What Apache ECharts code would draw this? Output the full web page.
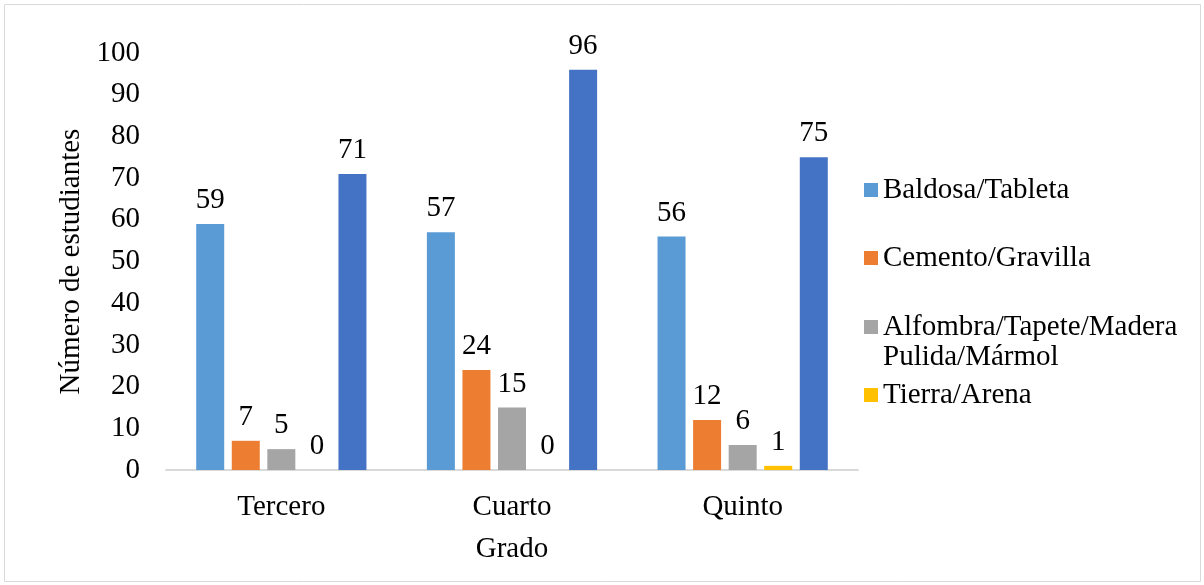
<!DOCTYPE html>
<html>
<head>
<meta charset="utf-8">
<script src="https://cdn.jsdelivr.net/npm/echarts@6/dist/echarts.min.js"></script>
<style>
html,body{margin:0;padding:0;background:#fff;}
#chart{width:1204px;height:585px;}
</style>
</head>
<body>
<div id="chart"></div>
<script>
const categories = ['Tercero', 'Cuarto', 'Quinto'];
const seriesNames = ['Baldosa/Tableta', 'Cemento/Gravilla', 'Alfombra/Tapete/Madera Pulida/Mármol', 'Tierra/Arena', 'Total'];
const baldosa = [59, 57, 56];
const cemento = [7, 24, 12];
const alfombra = [5, 15, 6];
const tierra = [0, 0, 1];
const total = [71, 96, 75];
const yTicks = { min: 0, max: 100, interval: 10 };
const colors = ['#5B9BD5', '#ED7D31', '#A5A5A5', '#FFC000', '#4472C4'];

const FONT = 'Liberation Serif';
const FS = 29;
const seriesData = [baldosa, cemento, alfombra, tierra, total];

const chart = echarts.init(document.getElementById('chart'));

function makeLegend(name, top, extra) {
  return Object.assign({
    data: [name],
    orient: 'vertical',
    left: 864,
    top: top,
    padding: 0,
    itemWidth: 14,
    itemHeight: 14,
    icon: 'rect',
    selectedMode: false,
    textStyle: { fontFamily: FONT, fontSize: FS, color: '#000', lineHeight: 30 }
  }, extra || {});
}

chart.setOption({
  animation: false,
  color: colors,
  grid: { left: 166, right: 346, top: 53, bottom: 115 },
  graphic: [{
    type: 'rect',
    shape: { x: 4.5, y: 4.5, width: 1196, height: 577 },
    style: { fill: 'none', stroke: '#d9d9d9', lineWidth: 1 },
    silent: true
  }],
  legend: [
    makeLegend(seriesNames[0], 175),
    makeLegend(seriesNames[1], 243),
    makeLegend(seriesNames[2], 282, {
      formatter: function () { return ' \nAlfombra/Tapete/Madera\nPulida/Mármol'; }
    }),
    makeLegend(seriesNames[3], 380)
  ],
  xAxis: {
    type: 'category',
    data: categories,
    name: 'Grado',
    nameLocation: 'middle',
    nameGap: 65,
    nameTextStyle: { fontFamily: FONT, fontSize: FS, color: '#000' },
    axisLine: { lineStyle: { color: '#d9d9d9', width: 2 } },
    axisTick: { show: false },
    axisLabel: { fontFamily: FONT, fontSize: FS, color: '#000', margin: 23 }
  },
  yAxis: {
    type: 'value',
    min: yTicks.min,
    max: yTicks.max,
    interval: yTicks.interval,
    name: 'Número de estudiantes',
    nameLocation: 'middle',
    nameGap: 76,
    nameTextStyle: { fontFamily: FONT, fontSize: FS, color: '#000' },
    axisLine: { show: false },
    axisTick: { show: false },
    splitLine: { show: false },
    axisLabel: { fontFamily: FONT, fontSize: FS, color: '#000', margin: 26 }
  },
  series: seriesNames.map(function (n, i) {
    return {
      name: n,
      type: 'bar',
      data: seriesData[i],
      barWidth: 28,
      barGap: '27%',
      label: {
        show: true,
        position: 'top',
        distance: 9,
        fontFamily: FONT,
        fontSize: FS,
        color: '#000'
      }
    };
  })
});
</script>
</body>
</html>
